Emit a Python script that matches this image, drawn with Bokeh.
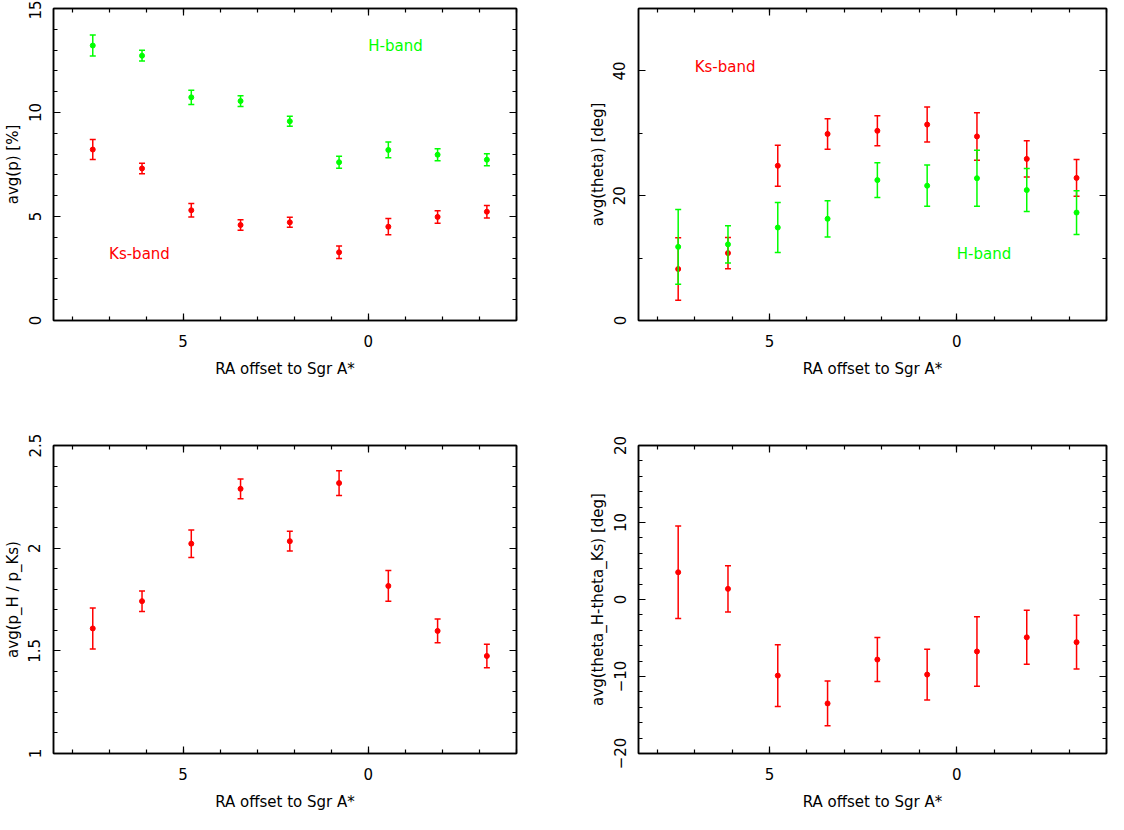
from bokeh.plotting import figure
from bokeh.models import (ColumnDataSource, Label, LinearAxis, SingleIntervalTicker,
                          Range1d, CustomJSTickFormatter)
from bokeh.layouts import gridplot
from bokeh.embed import file_html
from bokeh.resources import INLINE

# ---------------- data ----------------
ra_offset = [7.44, 6.11, 4.78, 3.45, 2.12, 0.79, -0.54, -1.87, -3.20]

p_H = [13.22, 12.73, 10.73, 10.55, 9.58, 7.61, 8.20, 7.97, 7.73]
p_H_err = [0.50, 0.26, 0.34, 0.26, 0.24, 0.29, 0.38, 0.29, 0.29]
p_Ks = [8.22, 7.31, 5.30, 4.59, 4.72, 3.28, 4.51, 4.98, 5.23]
p_Ks_err = [0.48, 0.25, 0.32, 0.25, 0.24, 0.30, 0.39, 0.30, 0.30]

theta_Ks = [8.25, 10.8, 24.8, 29.9, 30.4, 31.4, 29.5, 25.9, 22.85]
theta_Ks_err = [5.0, 2.5, 3.3, 2.45, 2.4, 2.8, 3.8, 2.9, 2.95]
theta_H = [11.8, 12.2, 14.9, 16.3, 22.5, 21.6, 22.8, 20.9, 17.3]
theta_H_err = [6.0, 3.0, 4.0, 2.9, 2.8, 3.3, 4.5, 3.45, 3.5]

ratio = [1.609, 1.742, 2.022, 2.289, 2.034, 2.317, 1.816, 1.597, 1.475]
ratio_err = [0.100, 0.050, 0.067, 0.048, 0.048, 0.060, 0.075, 0.058, 0.057]

dtheta = [3.54, 1.38, -9.88, -13.5, -7.8, -9.75, -6.75, -4.91, -5.54]
dtheta_err = [6.0, 3.0, 4.0, 2.9, 2.85, 3.3, 4.5, 3.5, 3.5]

x_label = "RA offset to Sgr A*"
y_labels = ["avg(p) [%]", "avg(theta) [deg]", "avg(p_H / p_Ks)", "avg(theta_H-theta_Ks) [deg]"]

# ---------------- style ----------------
FONT = "DejaVu Sans"
FS = "15px"
RED = "#ff0000"
GREEN = "#00ff00"
AX = "#000000"

JS_FMT = """
var s = (Math.round(tick*1000)/1000).toString();
return tick < 0 ? '\\u2212' + s.substring(1) : s;
"""


def panel(width, height, bl, br, bt, bb, yr, yint, yminor, ylabel):
    p = figure(width=width, height=height, output_backend="svg", toolbar_location=None,
               x_range=Range1d(8.5, -4.0), y_range=Range1d(*yr),
               x_axis_location=None, y_axis_location=None,
               min_border_left=bl, min_border_right=br,
               min_border_top=bt, min_border_bottom=bb,
               background_fill_color="white", border_fill_color="white",
               outline_line_color=AX, outline_line_width=1.5)
    p.grid.visible = False
    for loc, is_x, show in [("below", True, True), ("above", True, False),
                            ("left", False, True), ("right", False, False)]:
        if is_x:
            ticker = SingleIntervalTicker(interval=5, num_minor_ticks=5)
        else:
            ticker = SingleIntervalTicker(interval=yint, num_minor_ticks=yminor)
        ax = LinearAxis(ticker=ticker)
        ax.axis_line_color = AX
        ax.axis_line_width = 1.5
        ax.major_tick_in = 7
        ax.major_tick_out = 0
        ax.minor_tick_in = 4
        ax.minor_tick_out = 0
        ax.major_tick_line_color = AX
        ax.minor_tick_line_color = AX
        ax.major_tick_line_width = 1.2
        ax.minor_tick_line_width = 1.2
        if show:
            ax.formatter = CustomJSTickFormatter(code=JS_FMT)
            ax.major_label_text_font = FONT
            ax.major_label_text_font_size = FS
            ax.major_label_text_color = "#000000"
            ax.axis_label = x_label if is_x else ylabel
            ax.axis_label_text_font = FONT
            ax.axis_label_text_font_size = FS
            ax.axis_label_text_font_style = "normal"
            ax.axis_label_text_color = "#000000"
            if is_x:
                ax.major_label_standoff = 14
                ax.axis_label_standoff = 10
            else:
                ax.major_label_standoff = 13
                ax.axis_label_standoff = 4
                ax.major_label_orientation = "vertical"
        else:
            ax.formatter = CustomJSTickFormatter(code="return '';")
            ax.major_label_standoff = 0
            ax.major_label_text_font_size = "0px"
        p.add_layout(ax, loc)
    return p


def series(p, x, y, err, color):
    src = ColumnDataSource(dict(x=x, y=y,
                                upper=[a + b for a, b in zip(y, err)],
                                lower=[a - b for a, b in zip(y, err)]))
    p.segment(x0="x", y0="lower", x1="x", y1="upper", source=src,
              line_color=color, line_width=1.5)
    p.scatter(x="x", y="upper", source=src, marker="dash", size=6,
              line_color=color, line_width=1.5)
    p.scatter(x="x", y="lower", source=src, marker="dash", size=6,
              line_color=color, line_width=1.5)
    p.scatter(x="x", y="y", source=src, marker="circle", size=5,
              fill_color=color, line_color=color)


def label(p, x, y, text, color):
    p.add_layout(Label(x=x, y=y, text=text, text_color=color, text_font=FONT,
                       text_font_size=FS, text_align="left", text_baseline="middle"))


H1, H2 = 423, 390

p1 = panel(554, H1, 48, 38, 8, 103, (0, 15), 5, 5, y_labels[0])
series(p1, ra_offset, p_Ks, p_Ks_err, RED)
series(p1, ra_offset, p_H, p_H_err, GREEN)
label(p1, 0.0, 13.2, "H-band", GREEN)
label(p1, 7.0, 3.2, "Ks-band", RED)

p2 = panel(554, H1, 84, 2, 8, 103, (0, 50), 20, 2, y_labels[1])
series(p2, ra_offset, theta_Ks, theta_Ks_err, RED)
series(p2, ra_offset, theta_H, theta_H_err, GREEN)
label(p2, 7.0, 40.7, "Ks-band", RED)
label(p2, 0.0, 10.6, "H-band", GREEN)

p3 = panel(554, H2, 48, 38, 22, 56, (1, 2.5), 0.5, 5, y_labels[2])
series(p3, ra_offset, ratio, ratio_err, RED)

p4 = panel(554, H2, 84, 2, 22, 56, (-20, 20), 10, 5, y_labels[3])
series(p4, ra_offset, dtheta, dtheta_err, RED)

grid = gridplot([[p1, p2], [p3, p4]], toolbar_location=None)

open("out.html", "w").write(file_html(grid, INLINE))
